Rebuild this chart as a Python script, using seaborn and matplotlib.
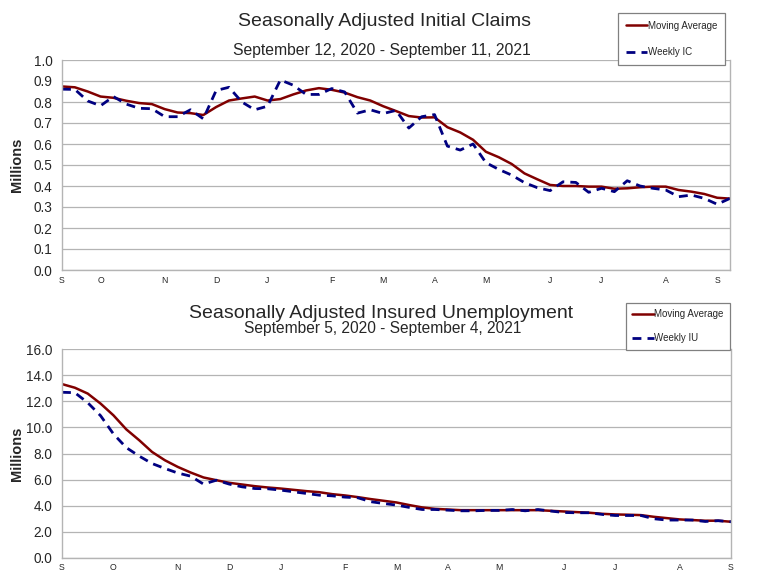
import numpy as np
import pandas as pd
import matplotlib
matplotlib.use("Agg")
import matplotlib.pyplot as plt
from matplotlib.lines import Line2D
import seaborn as sns

# ---------------- data ----------------
ic_start = "2020-09-12"
iu_start = "2020-09-05"

ic_moving_avg = [0.874, 0.870, 0.850, 0.826, 0.820, 0.806, 0.795, 0.790, 0.766, 0.750,
                 0.747, 0.738, 0.776, 0.807, 0.817, 0.826, 0.807, 0.814, 0.836, 0.855,
                 0.866, 0.858, 0.845, 0.823, 0.807, 0.780, 0.757, 0.733, 0.726, 0.727,
                 0.680, 0.655, 0.620, 0.563, 0.537, 0.505, 0.460, 0.432, 0.405, 0.400,
                 0.400, 0.397, 0.397, 0.387, 0.389, 0.394, 0.397, 0.397, 0.381, 0.373,
                 0.362, 0.344, 0.340]
ic_weekly = [0.861, 0.860, 0.805, 0.782, 0.826, 0.790, 0.770, 0.768, 0.730, 0.730,
             0.763, 0.720, 0.855, 0.870, 0.800, 0.763, 0.780, 0.905, 0.880, 0.836,
             0.836, 0.864, 0.848, 0.747, 0.763, 0.745, 0.760, 0.676, 0.730, 0.740,
             0.590, 0.571, 0.600, 0.511, 0.479, 0.452, 0.416, 0.392, 0.378, 0.420,
             0.417, 0.370, 0.389, 0.373, 0.425, 0.400, 0.389, 0.381, 0.349, 0.357,
             0.341, 0.313, 0.341]

iu_moving_avg = [13.33, 13.05, 12.60, 11.83, 10.93, 9.85, 9.02, 8.12, 7.48, 6.97,
                 6.54, 6.16, 5.95, 5.75, 5.62, 5.49, 5.39, 5.31, 5.21, 5.11,
                 5.03, 4.88, 4.78, 4.65, 4.50, 4.37, 4.24, 4.04, 3.86, 3.75,
                 3.70, 3.65, 3.65, 3.65, 3.65, 3.65, 3.65, 3.65, 3.60, 3.55,
                 3.50, 3.45, 3.37, 3.32, 3.30, 3.27, 3.14, 3.04, 2.94, 2.89,
                 2.84, 2.84, 2.76]
iu_weekly = [12.70, 12.67, 11.90, 10.90, 9.50, 8.45, 7.80, 7.23, 6.85, 6.50,
             6.26, 5.65, 5.95, 5.65, 5.44, 5.31, 5.29, 5.19, 5.06, 4.93,
             4.80, 4.75, 4.65, 4.60, 4.30, 4.16, 4.04, 3.86, 3.70, 3.70,
             3.65, 3.60, 3.60, 3.63, 3.63, 3.70, 3.60, 3.70, 3.58, 3.47,
             3.45, 3.45, 3.32, 3.24, 3.24, 3.24, 2.99, 2.89, 2.89, 2.89,
             2.78, 2.84, 2.76]

month_labels = ["S", "O", "N", "D", "J", "F", "M", "A", "M", "J", "J", "A", "S"]
ic_yticks = [0.0, 0.1, 0.2, 0.3, 0.4, 0.5, 0.6, 0.7, 0.8, 0.9, 1.0]
iu_yticks = [0.0, 2.0, 4.0, 6.0, 8.0, 10.0, 12.0, 14.0, 16.0]

# ---------------- style ----------------
sns.set_style("white")
plt.rcParams["font.family"] = ["Liberation Sans", "DejaVu Sans"]

RED = "#800000"
BLUE = "#000080"
GRID = "#b4b4b4"
DASH = (0, (3.2, 2.2))

fig = plt.figure(figsize=(7.58, 5.79), dpi=100)
ax1 = fig.add_axes([62 / 758, 1 - 270 / 579, 668 / 758, 210 / 579])
ax2 = fig.add_axes([62 / 758, 1 - 557.7 / 579, 669 / 758, 208.4 / 579])


def draw(ax, start, ma, wk, yticks, fmt):
    dates = pd.date_range(start, periods=len(ma), freq="7D")
    df = pd.DataFrame({"date": dates, "ma": ma, "wk": wk})
    sns.lineplot(data=df, x="date", y="ma", ax=ax, color=RED, lw=1.8)
    sns.lineplot(data=df, x="date", y="wk", ax=ax, color=BLUE, lw=2.0, linestyle=DASH)
    ax.set_xlim(dates[0], dates[-1])
    ax.set_ylim(yticks[0], yticks[-1])
    ax.set_yticks(yticks)
    ax.set_yticklabels([fmt.format(v) for v in yticks], fontsize=9.8)
    pos = [dates[0]] + [d for i, d in enumerate(dates) if i > 0 and d.month != dates[i - 1].month]
    ax.set_xticks(pos)
    ax.set_xticklabels(month_labels[:len(pos)], fontsize=6.3)
    ax.set_xticks(dates, minor=True)
    ax.tick_params(axis="x", which="both", direction="in", length=3, color=GRID, pad=4)
    ax.tick_params(axis="y", which="major", direction="out", length=4, color=GRID, pad=3)
    ax.grid(axis="y", color=GRID, lw=0.9)
    ax.grid(axis="x", visible=False)
    for s in ["left", "bottom", "right", "top"]:
        ax.spines[s].set_color(GRID)
        ax.spines[s].set_linewidth(1.0)
    ax.spines["top"].set_visible(False)
    ax.set_xlabel("")
    ax.set_ylabel("Millions", fontsize=10.5, fontweight="bold")
    ax.yaxis.set_label_coords(-0.057, 0.5)
    return [Line2D([0], [0], color=RED, lw=1.8),
            Line2D([0], [0], color=BLUE, lw=2.0, linestyle=DASH)]


h1 = draw(ax1, ic_start, ic_moving_avg, ic_weekly, ic_yticks, "{:.1f}")
h2 = draw(ax2, iu_start, iu_moving_avg, iu_weekly, iu_yticks, "{:.1f}")

fig.text(385 / 758, 1 - 21 / 579, "Seasonally Adjusted Initial Claims",
         ha="center", va="center", fontsize=14)
fig.text(382 / 758, 1 - 51 / 579, "September 12, 2020 - September 11, 2021",
         ha="center", va="center", fontsize=11.3)
fig.text(381 / 758, 1 - 314 / 579, "Seasonally Adjusted Insured Unemployment",
         ha="center", va="center", fontsize=14)
fig.text(383 / 758, 1 - 328.5 / 579, "September 5, 2020 - September 4, 2021",
         ha="center", va="center", fontsize=11.2)

leg1 = fig.legend(h1, ["Moving Average", "Weekly IC"], loc="upper left",
                  bbox_to_anchor=(618 / 758, 1 - 13 / 579), fontsize=7,
                  handlelength=2.2, handletextpad=0.05, labelspacing=1.7,
                  borderpad=0.8, borderaxespad=0, fancybox=False, framealpha=1,
                  edgecolor="#808080")
leg1.get_frame().set_linewidth(0.9)
leg2 = fig.legend(h2, ["Moving Average", "Weekly IU"], loc="upper left",
                  bbox_to_anchor=(626 / 758, 1 - 303 / 579), fontsize=7,
                  handlelength=2.2, handletextpad=0.05, labelspacing=1.45,
                  borderpad=0.65, borderaxespad=0, fancybox=False, framealpha=1,
                  edgecolor="#808080")
leg2.get_frame().set_linewidth(0.9)

fig.savefig("out.png", dpi=100)
